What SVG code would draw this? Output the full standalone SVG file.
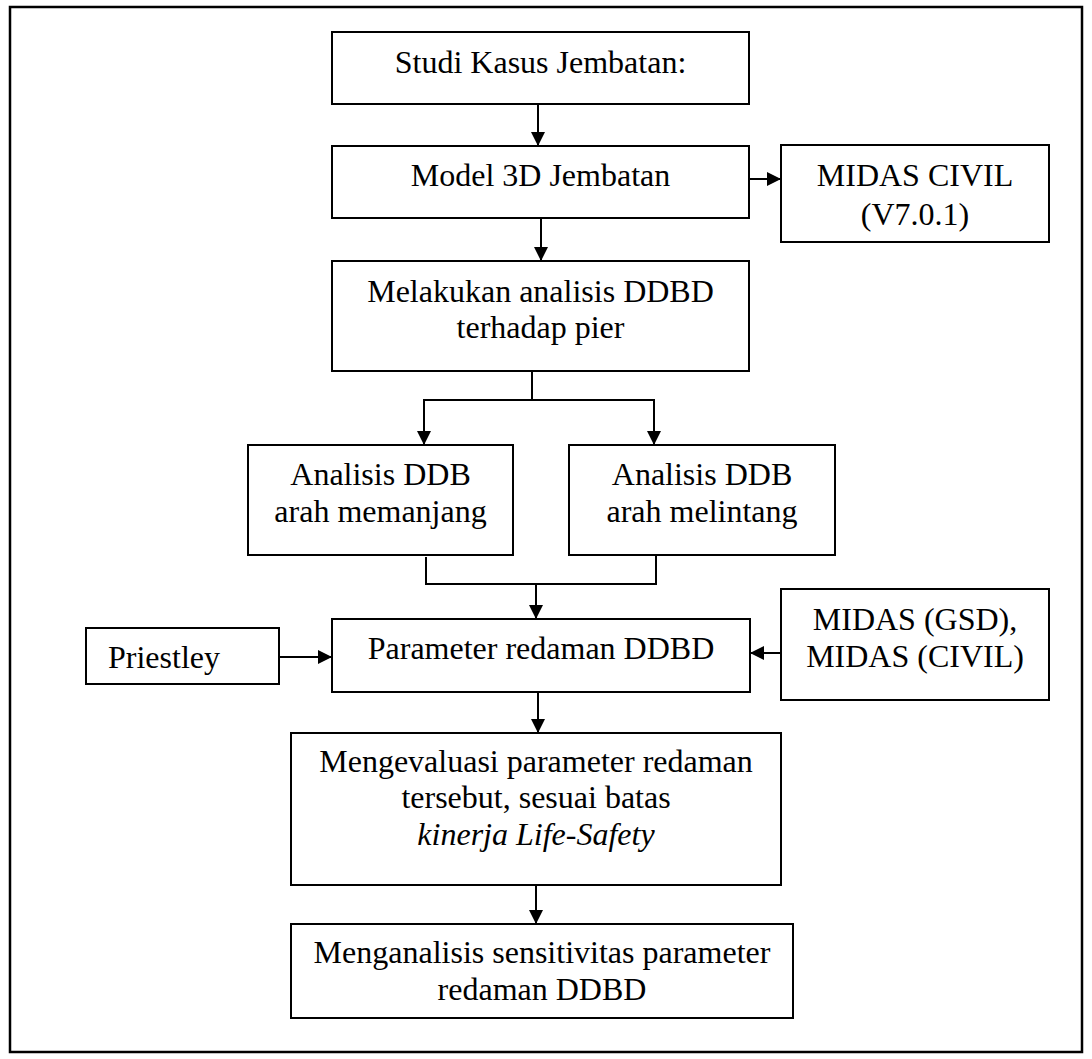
<svg xmlns="http://www.w3.org/2000/svg" width="1092" height="1059" viewBox="0 0 1092 1059">
<style>
.box{fill:#fff;stroke:#000;stroke-width:2}
.frame{fill:#fff;stroke:#000;stroke-width:2.5}
.t{font-family:"Liberation Serif","Times New Roman",serif;font-size:32px;fill:#000;text-anchor:middle}
.it{font-style:italic}
.c{fill:none;stroke:#000;stroke-width:2}
</style>
<defs>
<marker id="ah" viewBox="0 0 14 14" refX="14" refY="7" markerWidth="14" markerHeight="14" markerUnits="userSpaceOnUse" orient="auto">
<path d="M0,0 L14,7 L0,14 z" fill="#000"/>
</marker>
</defs>
<rect class="frame" x="10" y="7" width="1072" height="1045"/>
<g id="connectors">
<line class="c" x1="538" y1="105" x2="538" y2="146" marker-end="url(#ah)"/>
<line class="c" x1="541" y1="219" x2="541" y2="261" marker-end="url(#ah)"/>
<line class="c" x1="747" y1="179" x2="781" y2="179" marker-end="url(#ah)"/>
<polyline class="c" points="532,371 532,400"/>
<polyline class="c" points="424,445 424,400 654,400 654,445" />
<line class="c" x1="424" y1="400" x2="424" y2="445" marker-end="url(#ah)"/>
<line class="c" x1="654" y1="400" x2="654" y2="445" marker-end="url(#ah)"/>
<polyline class="c" points="426,557 426,584 656,584 656,555"/>
<line class="c" x1="536" y1="584" x2="536" y2="619" marker-end="url(#ah)"/>
<line class="c" x1="279" y1="657" x2="332" y2="657" marker-end="url(#ah)"/>
<line class="c" x1="781" y1="653" x2="750" y2="653" marker-end="url(#ah)"/>
<line class="c" x1="538" y1="692" x2="538" y2="733" marker-end="url(#ah)"/>
<line class="c" x1="536" y1="882" x2="536" y2="924" marker-end="url(#ah)"/>
</g>
<g id="studi">
<rect class="box" x="332" y="32" width="417" height="72"/>
<text class="t" x="540.5" y="73">Studi Kasus Jembatan:</text>
</g>
<g id="model">
<rect class="box" x="332" y="146" width="417" height="72"/>
<text class="t" x="540.5" y="186">Model 3D Jembatan</text>
</g>
<g id="midascivil">
<rect class="box" x="781" y="145" width="268" height="97"/>
<text class="t" x="915" y="186">MIDAS CIVIL</text>
<text class="t" x="915" y="225">(V7.0.1)</text>
</g>
<g id="melakukan">
<rect class="box" x="332" y="261" width="417" height="110"/>
<text class="t" x="540.5" y="302">Melakukan analisis DDBD</text>
<text class="t" x="540.5" y="338">terhadap pier</text>
</g>
<g id="memanjang">
<rect class="box" x="248" y="445" width="265" height="110"/>
<text class="t" x="380.5" y="485">Analisis DDB</text>
<text class="t" x="380.5" y="522">arah memanjang</text>
</g>
<g id="melintang">
<rect class="box" x="569" y="445" width="266" height="110"/>
<text class="t" x="702" y="485">Analisis DDB</text>
<text class="t" x="702" y="522">arah melintang</text>
</g>
<g id="priestley">
<rect class="box" x="86" y="628" width="193" height="56"/>
<text class="t" x="108" y="668" style="text-anchor:start">Priestley</text>
</g>
<g id="parameter">
<rect class="box" x="332" y="619" width="418" height="73"/>
<text class="t" x="541" y="659">Parameter redaman DDBD</text>
</g>
<g id="midasgsd">
<rect class="box" x="781" y="589" width="268" height="111"/>
<text class="t" x="915" y="630">MIDAS (GSD),</text>
<text class="t" x="915" y="667">MIDAS (CIVIL)</text>
</g>
<g id="evaluasi">
<rect class="box" x="291" y="733" width="490" height="152"/>
<text class="t" x="536" y="772">Mengevaluasi parameter redaman</text>
<text class="t" x="536" y="808">tersebut, sesuai batas</text>
<text class="t it" x="536" y="845">kinerja Life-Safety</text>
</g>
<g id="sensitivitas">
<rect class="box" x="291" y="924" width="502" height="94"/>
<text class="t" x="542" y="963">Menganalisis sensitivitas parameter</text>
<text class="t" x="542" y="1000">redaman DDBD</text>
</g>
</svg>
